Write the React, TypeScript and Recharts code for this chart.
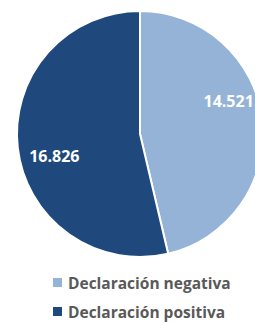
import React from 'react';
import { PieChart, Pie, Cell, Legend } from 'recharts';

const categories = ['Declaración negativa', 'Declaración positiva'];
const values = [14521, 16826];
const valueLabels = ['14.521', '16.826'];
const colors = ['#95B3D7', '#1F497D'];

const data = categories.map((name, i) => ({ name, value: values[i], label: valueLabels[i] }));

const RAD = Math.PI / 180;
const labelAngleShift = [14, 8];
const labelRadiusFactor = [0.77, 0.72];

const renderLabel = (props: any) => {
  const { cx, cy, midAngle, outerRadius, index } = props;
  const a = (midAngle + labelAngleShift[index]) * RAD;
  const r = outerRadius * labelRadiusFactor[index];
  const x = cx + r * Math.cos(a);
  const y = cy - r * Math.sin(a);
  return (
    <text
      x={x}
      y={y}
      fill="#FFFFFF"
      textAnchor="middle"
      dominantBaseline="central"
      fontFamily="'Open Sans', sans-serif"
      fontWeight={700}
      fontSize={16}
    >
      {data[index].label}
    </text>
  );
};

const renderLegend = () => (
  <div style={{ fontFamily: "'Open Sans', sans-serif", fontWeight: 700, fontSize: 15.5, color: '#595959' }}>
    {data.map((d, i) => (
      <div key={d.name} style={{ display: 'flex', alignItems: 'center', height: 29 }}>
        <span style={{ display: 'inline-block', width: 9, height: 9, background: colors[i], marginRight: 6 }} />
        <span>{d.name}</span>
      </div>
    ))}
  </div>
);

export default function App() {
  return (
    <div style={{ position: 'absolute', left: 0, top: 0, width: 255, height: 322, background: '#FFFFFF', overflow: 'hidden' }}>
      <PieChart width={255} height={322} margin={{ top: 0, right: 0, bottom: 0, left: 0 }}>
        <Pie
          data={data}
          dataKey="value"
          nameKey="name"
          cx={140}
          cy={134}
          outerRadius={123}
          startAngle={90}
          endAngle={-270}
          stroke="#FFFFFF"
          strokeWidth={2}
          label={renderLabel}
          labelLine={false}
          isAnimationActive={false}
        >
          {data.map((d, i) => (
            <Cell key={d.name} fill={colors[i]} />
          ))}
        </Pie>
        <Legend
          content={renderLegend}
          wrapperStyle={{ position: 'absolute', left: 53, top: 268, width: 202 }}
        />
      </PieChart>
    </div>
  );
}
